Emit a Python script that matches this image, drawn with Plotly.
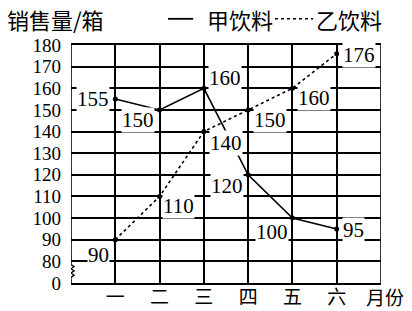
import plotly.graph_objects as go

months = ["一", "二", "三", "四", "五", "六"]
month_pos = [1, 2, 3, 4, 5, 6]
jia = [155, 150, 160, 120, 100, 95]
yi = [90, 110, 140, 150, 160, 176]
y_ticks = [70, 80, 90, 100, 110, 120, 130, 140, 150, 160, 170, 180]
y_ticktext = ["0", "80", "90", "100", "110", "120", "130", "140", "150", "160", "170", "180"]
series_names = ["甲饮料", "乙饮料"]

X0, X1 = 0, 7
Y0, Y1 = 70, 180

# label placements (style only): xanchor, xshift, yshift (center offset in px)
jia_lab = [("right", -5, 0), ("right", -5, -10), ("left", 4, 10),
           ("right", -4, -11), ("right", -3, -14), ("left", 5, -1)]
yi_lab = [("right", -5, -15), ("left", 2, -10), ("left", 5, -11),
          ("left", 5, -10), ("left", 5, -10), ("left", 5, -1)]

SERIF = "Liberation Serif, Times New Roman, serif"
CJK = "Noto Sans CJK SC, sans-serif"

fig = go.Figure()
fig.add_trace(go.Scatter(x=month_pos, y=jia, mode="lines+markers", showlegend=False, name=series_names[0],
                         line=dict(color="black", width=1.6),
                         marker=dict(color="black", size=5)))
fig.add_trace(go.Scatter(x=month_pos, y=yi, mode="lines+markers", showlegend=False, name=series_names[1],
                         line=dict(color="black", width=1.6, dash="dot"),
                         marker=dict(color="black", size=5)))

annotations = []
for xs, ys, specs in ((month_pos, jia, jia_lab), (month_pos, yi, yi_lab)):
    for x, y, (xa, dx, dy) in zip(xs, ys, specs):
        annotations.append(dict(x=x, y=y, text=str(y), showarrow=False, xanchor=xa, yanchor="middle",
                                xshift=dx, yshift=dy, bgcolor="white", borderpad=0,
                                font=dict(family=SERIF, size=21, color="black")))
annotations.append(dict(x=X1, y=Y0, text="月份", showarrow=False, xanchor="center", yanchor="middle",
                        xshift=4, yshift=-13, font=dict(family=CJK, size=19, color="black")))
LEG_Y = 1.11
annotations.append(dict(x=-0.213, y=LEG_Y, xref="paper", yref="paper", text="销售量/箱", showarrow=False,
                        xanchor="left", yanchor="middle", font=dict(family=CJK, size=22, color="black")))

# manual legend
annotations.append(dict(x=0.432, y=LEG_Y, xref="paper", yref="paper", text=series_names[0], showarrow=False,
                        xanchor="left", yanchor="middle", font=dict(family=CJK, size=22, color="black")))
annotations.append(dict(x=0.783, y=LEG_Y, xref="paper", yref="paper", text=series_names[1], showarrow=False,
                        xanchor="left", yanchor="middle", font=dict(family=CJK, size=22, color="black")))

shapes = [
    dict(type="line", xref="x", yref="y", x0=X0, x1=X0, y0=78.5, y1=Y1, line=dict(color="black", width=1.6)),
    dict(type="line", xref="x", yref="y", x0=X0, x1=X0, y0=Y0, y1=71.5, line=dict(color="black", width=1.6)),
    dict(type="path", xref="x", yref="y",
         path=f"M {X0},78.5 L {X0+0.07},77.6 L {X0},76.6 L {X0+0.07},75.6 L {X0},74.6 L {X0+0.07},73.6 L {X0},72.6 L {X0},71.5",
         line=dict(color="black", width=1.3)),
    dict(type="line", xref="x", yref="y", x0=X1, x1=X1, y0=Y0, y1=Y1, line=dict(color="black", width=1.6)),
    dict(type="line", xref="paper", yref="paper", x0=0.313, x1=0.394, y0=LEG_Y, y1=LEG_Y,
         line=dict(color="black", width=1.8)),
    dict(type="line", xref="paper", yref="paper", x0=0.658, x1=0.781, y0=LEG_Y, y1=LEG_Y,
         line=dict(color="black", width=1.6, dash="dot")),
]

fig.update_layout(
    width=412, height=311,
    margin=dict(l=71, r=31, t=45, b=28),
    paper_bgcolor="white", plot_bgcolor="white",
    annotations=annotations,
    shapes=shapes,
    showlegend=False,
)
fig.update_xaxes(range=[X0, X1], tickvals=month_pos, ticktext=months, automargin=False,
                 showgrid=True, gridcolor="black", gridwidth=1.5,
                 showline=True, linecolor="black", linewidth=1.6, mirror=True,
                 zeroline=False, ticks="", ticklabelstandoff=-4,
                 tickfont=dict(family=CJK, size=19, color="black"))
fig.update_yaxes(range=[Y0, Y1], tickvals=y_ticks, ticktext=y_ticktext, automargin=False,
                 showgrid=True, gridcolor="black", gridwidth=1.5,
                 showline=False, zeroline=False, ticks="", ticklabelstandoff=9,
                 tickfont=dict(family=SERIF, size=19, color="black"))

fig.write_html("out.html")
